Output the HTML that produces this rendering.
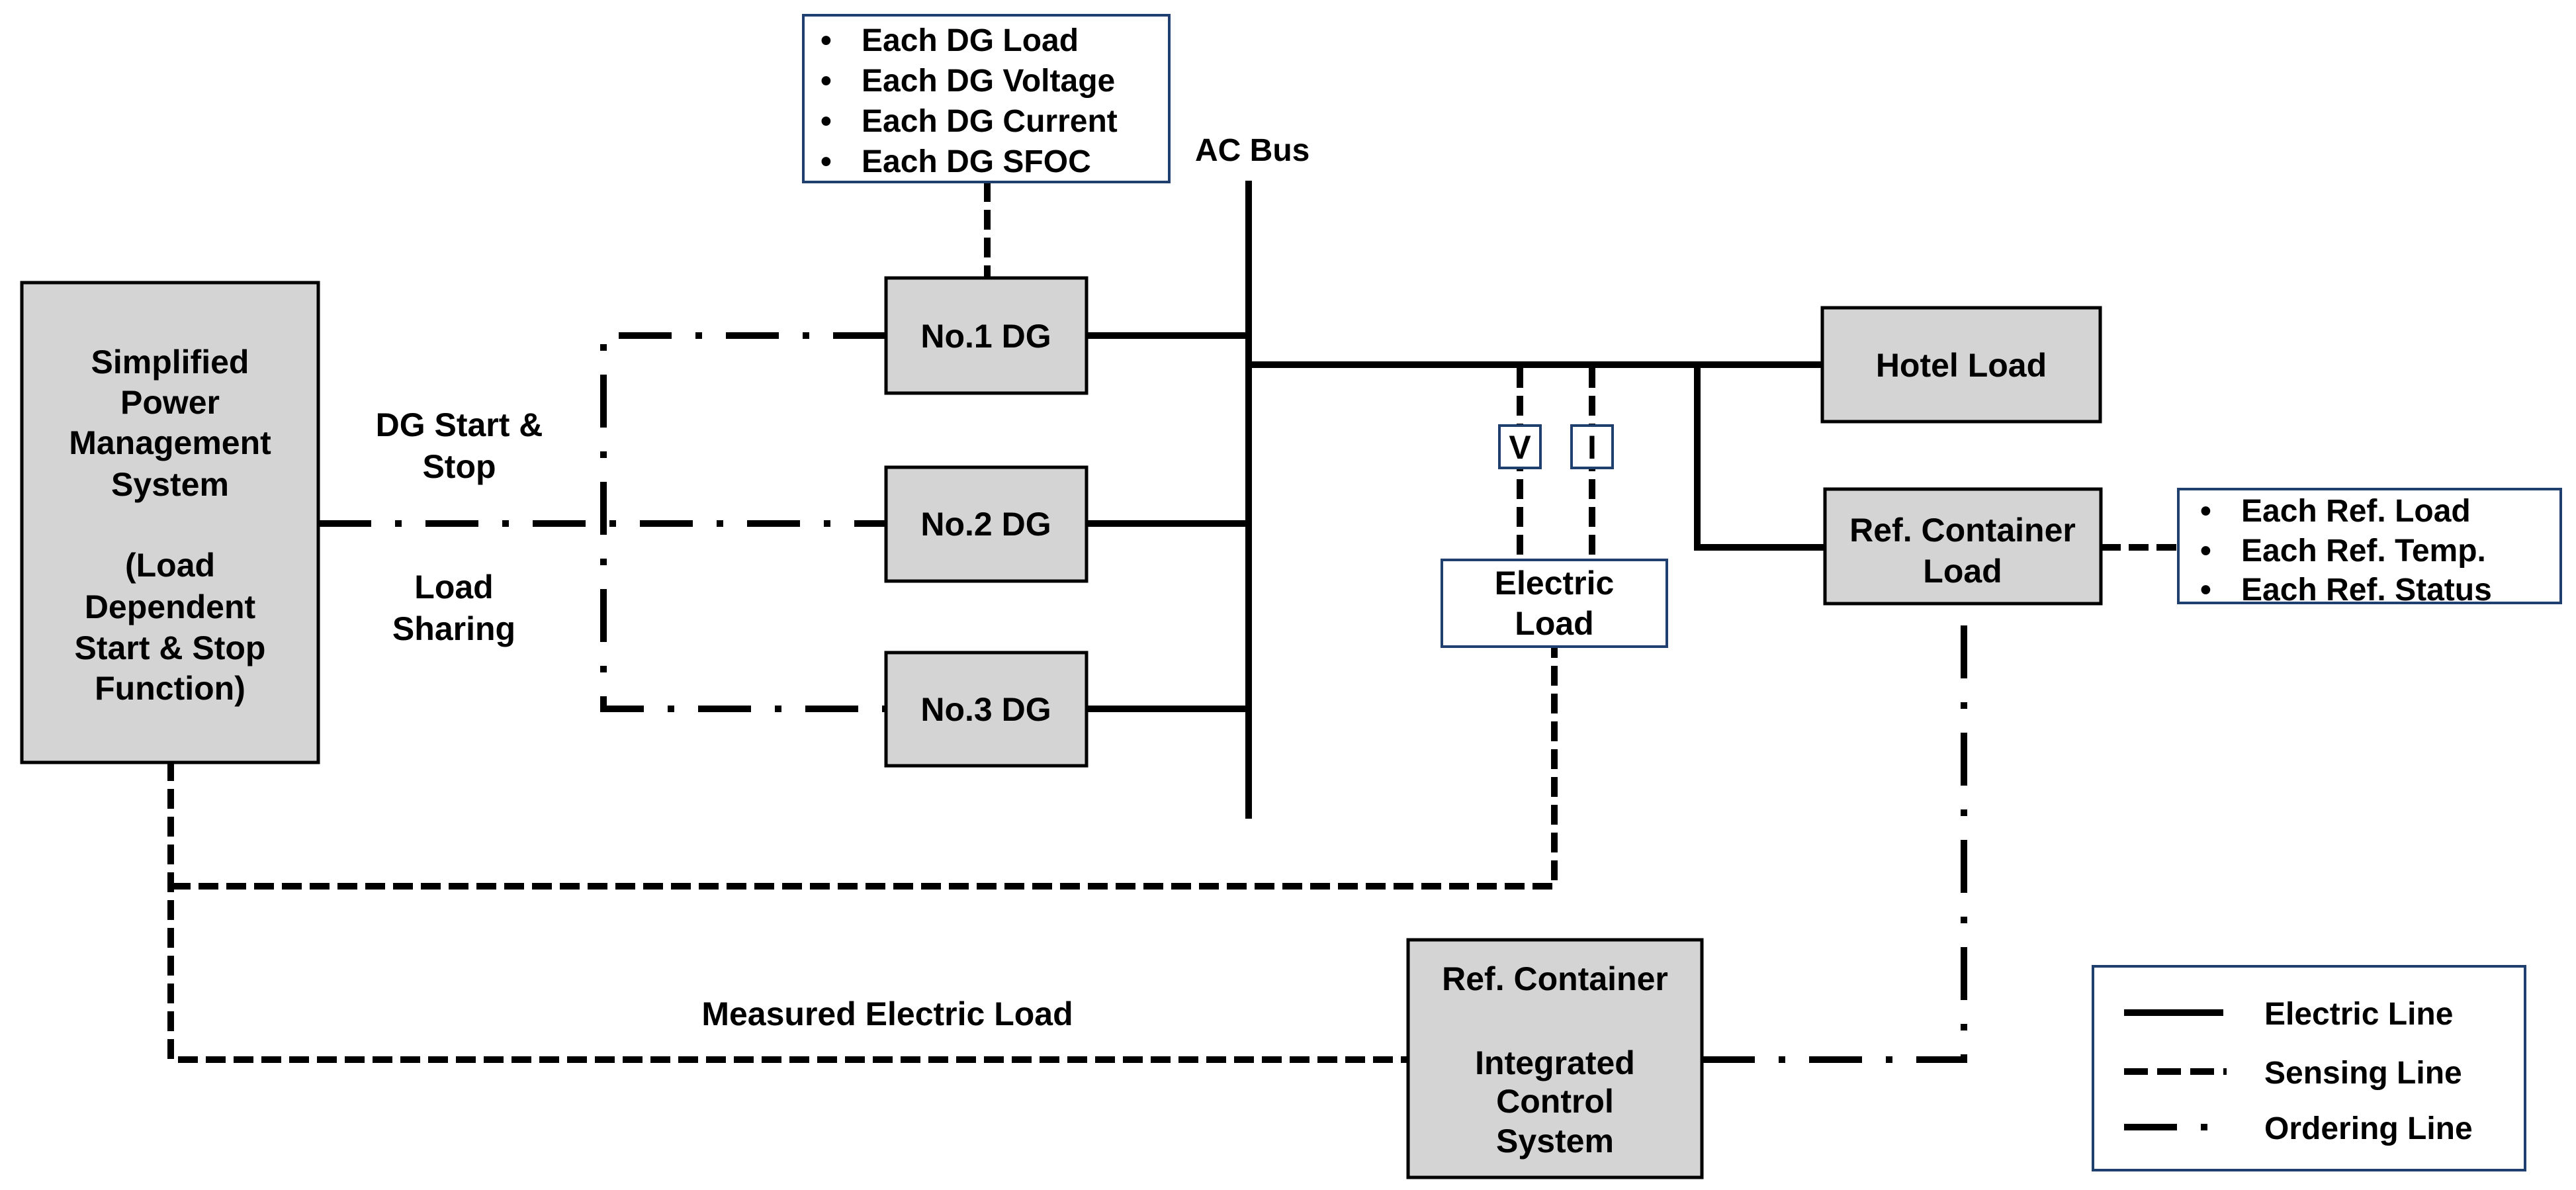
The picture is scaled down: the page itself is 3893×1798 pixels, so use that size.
<!DOCTYPE html>
<html><head><meta charset="utf-8"><style>
html,body{margin:0;padding:0;background:#fff;}
svg{display:block;}
text{font-family:"Liberation Sans",sans-serif;font-weight:bold;fill:#000;}
</style></head><body>
<svg width="3893" height="1798" viewBox="0 0 3893 1798" xmlns="http://www.w3.org/2000/svg">
<g fill="none" stroke="#000">
<g stroke-width="10">
<line x1="1887" y1="273" x2="1887" y2="1237"/>
<line x1="1642" y1="507" x2="1887" y2="507"/>
<line x1="1642" y1="791" x2="1887" y2="791"/>
<line x1="1642" y1="1071" x2="1887" y2="1071"/>
<line x1="1887" y1="551" x2="2754" y2="551"/>
<polyline points="2565,551 2565,827 2758,827"/>
</g>
<g stroke-width="10" stroke-dasharray="30 12">
<line x1="1492" y1="275" x2="1492" y2="420"/>
<line x1="2297" y1="556" x2="2297" y2="846"/>
<line x1="2406" y1="556" x2="2406" y2="846"/>
<line x1="3175" y1="827" x2="3292" y2="827"/>
<polyline points="258,1150 258,1601 2128,1601"/>
<polyline points="258,1339 2349,1339 2349,977"/>
</g>
<g stroke-width="10" stroke-dasharray="80 36 10 36">
<line x1="481" y1="791" x2="1339" y2="791"/>
<polyline points="1339,507 912,507 912,1071 1339,1071"/>
<polyline points="2572,1601 2968,1601 2968,912"/>
</g>
</g>
<g fill="#d4d4d4" stroke="#000" stroke-width="5">
<rect x="33" y="427" width="448" height="725"/>
<rect x="1339" y="420" width="303" height="174"/>
<rect x="1339" y="706" width="303" height="172"/>
<rect x="1339" y="986" width="303" height="171"/>
<rect x="2754" y="465" width="420" height="172"/>
<rect x="2758" y="739" width="417" height="173"/>
<rect x="2128" y="1420" width="444" height="359"/>
</g>
<g fill="#fff" stroke="#1f3f6e" stroke-width="4">
<rect x="1214" y="23" width="553" height="252"/>
<rect x="2266" y="643" width="62" height="64"/>
<rect x="2375" y="643" width="62" height="64"/>
<rect x="2179" y="846" width="340" height="131"/>
<rect x="3292" y="739" width="578" height="172"/>
<rect x="3163" y="1460" width="653" height="308"/>
</g>
<g font-size="50" text-anchor="middle">
<text x="257" y="564">Simplified</text>
<text x="257" y="625">Power</text>
<text x="257" y="686">Management</text>
<text x="257" y="749">System</text>
<text x="257" y="871">(Load</text>
<text x="257" y="934">Dependent</text>
<text x="257" y="996">Start &amp; Stop</text>
<text x="257" y="1057">Function)</text>
<text x="694" y="659">DG Start &amp;</text>
<text x="694" y="722">Stop</text>
<text x="686" y="904">Load</text>
<text x="686" y="967">Sharing</text>
<text x="1490" y="525">No.1 DG</text>
<text x="1490" y="809">No.2 DG</text>
<text x="1490" y="1089">No.3 DG</text>
<text x="2964" y="569">Hotel Load</text>
<text x="2966" y="818">Ref. Container</text>
<text x="2966" y="880">Load</text>
<text x="2349" y="898">Electric</text>
<text x="2349" y="959">Load</text>
<text x="2297" y="693">V</text>
<text x="2406" y="693">I</text>
<text x="1341" y="1549">Measured Electric Load</text>
<text x="2350" y="1496">Ref. Container</text>
<text x="2350" y="1623">Integrated</text>
<text x="2350" y="1681">Control</text>
<text x="2350" y="1741">System</text>
</g>
<g font-size="48">
<text x="1806" y="243">AC Bus</text>
<text x="1240" y="77">•</text><text x="1302" y="77">Each DG Load</text>
<text x="1240" y="138">•</text><text x="1302" y="138">Each DG Voltage</text>
<text x="1240" y="199">•</text><text x="1302" y="199">Each DG Current</text>
<text x="1240" y="260">•</text><text x="1302" y="260">Each DG SFOC</text>
<text x="3325" y="788">•</text><text x="3387" y="788">Each Ref. Load</text>
<text x="3325" y="848">•</text><text x="3387" y="848">Each Ref. Temp.</text>
<text x="3325" y="907">•</text><text x="3387" y="907">Each Ref. Status</text>
<text x="3422" y="1548">Electric Line</text>
<text x="3422" y="1637">Sensing Line</text>
<text x="3422" y="1721">Ordering Line</text>
</g>
<g stroke="#000" stroke-width="10">
<line x1="3210" y1="1530" x2="3360" y2="1530"/>
<line x1="3210" y1="1619" x2="3365" y2="1619" stroke-dasharray="36 14"/>
<line x1="3210" y1="1703" x2="3370" y2="1703" stroke-dasharray="80 36 10 36"/>
</g>
</svg>
</body></html>
